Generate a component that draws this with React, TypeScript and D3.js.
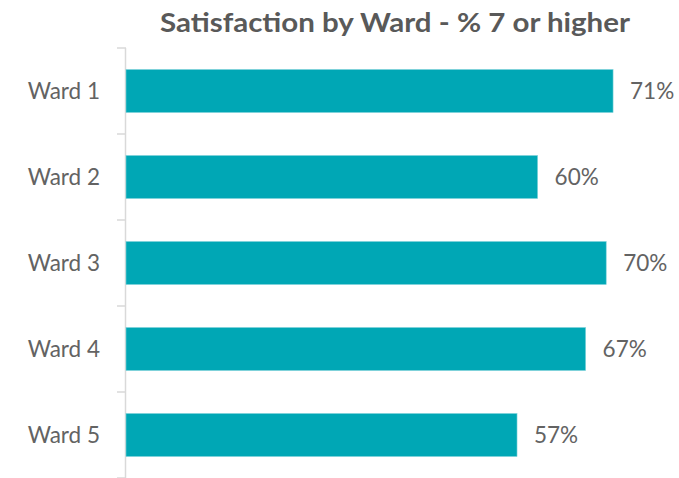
import React from "react";
import * as d3 from "d3";

const categories = ["Ward 1", "Ward 2", "Ward 3", "Ward 4", "Ward 5"];
const values = [0.71, 0.6, 0.7, 0.67, 0.57];
const valueLabels = ["71%", "60%", "70%", "67%", "57%"];
const title = "Satisfaction by Ward - % 7 or higher";

const W = 679;
const H = 478;

export default function App() {
  const x = d3.scaleLinear().domain([0, 1]).range([126, 812]);
  const y = d3
    .scaleBand<string>()
    .domain(categories)
    .range([48, 478])
    .paddingInner(0.5)
    .paddingOuter(0.25);
  const step = y.step();
  const tickYs = categories.map((c) => (y(c) as number) - step * 0.25).concat([478]);
  const font = "Lato, 'Open Sans', sans-serif";
  const textColor = "#636363";

  return (
    <svg
      width={W}
      height={H}
      style={{ position: "absolute", left: 0, top: 0, background: "#fff" }}
    >
      <text
        x={395}
        y={32}
        textAnchor="middle"
        fontFamily={font}
        fontWeight="bold"
        fontSize={27}
        fill="#595959"
        textLength={470}
        lengthAdjust="spacingAndGlyphs"
      >
        {title}
      </text>
      <line x1={125.5} x2={125.5} y1={48} y2={478} stroke="#D9D9D9" strokeWidth={1.5} />
      {tickYs.map((t, i) => (
        <line key={i} x1={117} x2={126} y1={t} y2={t} stroke="#D9D9D9" strokeWidth={1.5} />
      ))}
      {categories.map((c, i) => {
        const by = y(c) as number;
        const bw = y.bandwidth();
        const xe = x(values[i]);
        return (
          <g key={c}>
            <rect
              x={x(0)}
              y={by}
              width={xe - x(0)}
              height={bw}
              fill="#00A7B5"
              stroke="#7FD3DA"
              strokeWidth={0.6}
            />
            <text
              x={100}
              y={by + bw / 2}
              dy="0.35em"
              textAnchor="end"
              fontFamily={font}
              fontSize={22.5}
              fill={textColor}
            >
              {c}
            </text>
            <text
              x={xe + 17}
              y={by + bw / 2}
              dy="0.35em"
              textAnchor="start"
              fontFamily={font}
              fontSize={22.5}
              fill={textColor}
            >
              {valueLabels[i]}
            </text>
          </g>
        );
      })}
    </svg>
  );
}
